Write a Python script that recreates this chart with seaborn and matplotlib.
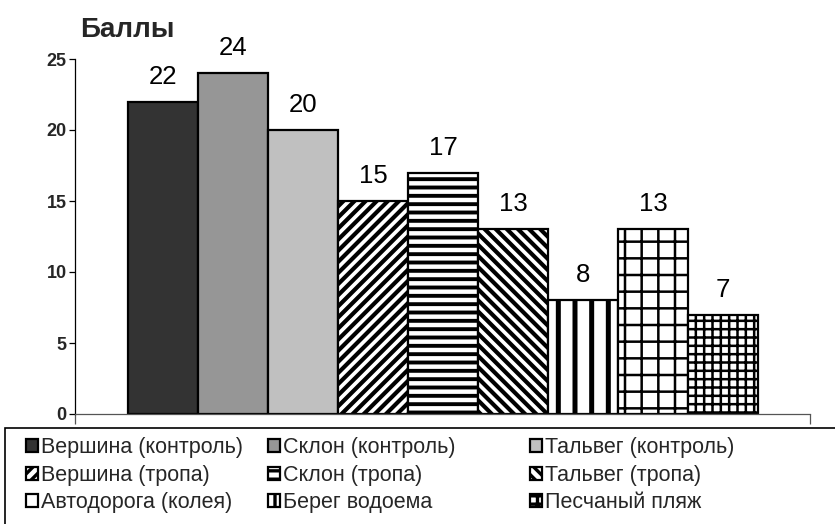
import matplotlib
matplotlib.use("Agg")
import matplotlib.pyplot as plt
import pandas as pd
import seaborn as sns
from matplotlib.patches import Rectangle

# Scores by site
categories = ["Вершина (контроль)", "Склон (контроль)", "Тальвег (контроль)",
              "Вершина (тропа)", "Склон (тропа)", "Тальвег (тропа)",
              "Автодорога (колея)", "Берег водоема", "Песчаный пляж"]
scores = [22, 24, 20, 15, 17, 13, 8, 13, 7]
y_ticks = [0, 5, 10, 15, 20, 25]
y_title = "Баллы"

# Fill styles: solid greys for the control sites, hatching for the others
fills = ["#333333", "#969696", "#c0c0c0"] + ["#ffffff"] * 6
hatches = [None, None, None, "///", "--", "\\\\\\", "|", "+", "++"]
hatch_widths = [1.0, 1.0, 1.0, 3.0, 2.8, 3.0, 3.6, 1.8, 1.8]

sns.set_theme(style="white")
plt.rcParams["font.family"] = ["Liberation Sans", "DejaVu Sans"]
plt.rcParams["hatch.linewidth"] = 2.4
plt.rcParams["hatch.color"] = "black"

W, H = 835, 524
fig = plt.figure(figsize=(W / 100, H / 100), dpi=100)
ax = fig.add_axes([75 / W, 110 / H, 735 / W, 355 / H])

df = pd.DataFrame({"site": categories, "score": scores})
sns.barplot(data=df, x="site", y="score", hue="site", palette=fills,
            saturation=1, width=1.0, dodge=False, edgecolor="black",
            linewidth=1.6, legend=False, ax=ax)

bars = sorted([p for p in ax.patches if p.get_height() > 0], key=lambda p: p.get_x())
for bar, h, hw in zip(bars, hatches, hatch_widths):
    if h:
        bar.set_hatch(h)
        if hasattr(bar, "set_hatch_linewidth"):
            bar.set_hatch_linewidth(hw)

# value labels above the bars
for i, v in enumerate(scores):
    ax.annotate(str(v), (i, v), xytext=(0, 13), textcoords="offset points",
                ha="center", va="baseline", fontsize=18.5, color="black")

x0, x1 = -0.5 - 53 / 70, 8.5 + 52 / 70
ax.set_xlim(x0, x1)
ax.set_ylim(0, 25)
ax.set_yticks(y_ticks)
ax.set_yticklabels([str(t) for t in y_ticks], fontweight="bold", fontsize=13)
ax.set_xticks([x0, x1])
ax.set_xticklabels(["", ""])
ax.set_xlabel("")
ax.set_ylabel("")
ax.tick_params(axis="y", direction="out", length=4.5, width=0.9, left=True,
               color="black", pad=1.5)
ax.tick_params(axis="x", direction="out", length=7.5, width=0.9, bottom=True,
               color="#555555")
for s in ("top", "right"):
    ax.spines[s].set_visible(False)
ax.spines["left"].set_color("black")
ax.spines["left"].set_linewidth(0.9)
ax.spines["bottom"].set_color("#555555")
ax.spines["bottom"].set_linewidth(0.9)

fig.text(80 / W, 1 - 30 / H, y_title, fontsize=20, fontweight="bold",
         ha="left", va="center")

# legend frame running off the lower right edge
fig.patches.append(Rectangle((5 / W, -0.1), 1.0, (H - 428) / H + 0.1,
                             transform=fig.transFigure, fill=False,
                             edgecolor="black", linewidth=1.2))

col_x = [22, 264, 526]
for c in range(3):
    idx = [c, c + 3, c + 6]
    fig.legend([bars[i] for i in idx], [categories[i] for i in idx],
               loc="upper left", bbox_to_anchor=(col_x[c] / W, 1 - 433 / H),
               frameon=False, fontsize=15.5, handlelength=0.55,
               handleheight=0.55, handletextpad=0.15, labelspacing=0.3,
               borderpad=0.2, borderaxespad=0)

fig.savefig("out.png", dpi=100)
